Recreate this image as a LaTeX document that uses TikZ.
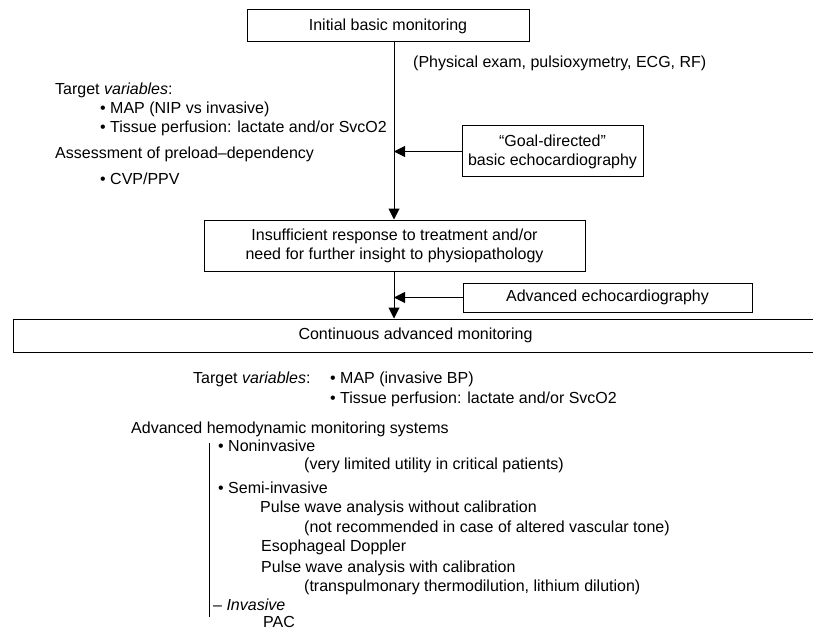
\documentclass[tikz,border=0pt]{standalone}
\usepackage{fontspec}
\setmainfont{Liberation Sans}
\usetikzlibrary{arrows.meta}
\begin{document}
\begin{tikzpicture}[x=1pt,y=-1pt,font=\fontsize{16}{19}\selectfont,
  box/.style={draw,line width=1pt,inner sep=0pt,align=center},
  lbl/.style={anchor=base west,inner sep=0pt},
  arr/.style={line width=1pt,-{Triangle[width=11pt,length=11pt]}},
  ln/.style={line width=1pt}]
\useasboundingbox (0,0) rectangle (813,631);
\coordinate (sp) at (394,0);
% boxes
\node[box,minimum width=282pt,minimum height=32pt] (b1) at (388,26) {Initial basic monitoring};
\node[box,minimum width=181pt,minimum height=51pt] (goal) at (552.5,151.5) {“Goal-directed”\\basic echocardiography};
\node[box,minimum width=381pt,minimum height=51pt] (b2) at (394.5,245.5) {Insufficient response to treatment and/or\\need for further insight to physiopathology};
\node[box,minimum width=289pt,minimum height=29pt] (adv) at (607.5,297.5) {Advanced echocardiography};
\node[box,minimum width=805pt,minimum height=33pt] (b3) at (415.5,335.5) {Continuous advanced monitoring};
% connectors
\draw[arr] (b1.south -| sp) -- (b2.north -| sp);
\draw[arr] (goal.west) -- (goal.west -| sp);
\draw[arr] (b2.south -| sp) -- (b3.north -| sp);
\draw[arr] (adv.west) -- (adv.west -| sp);
% upper texts
\node[lbl] (phys) at (413,68) {(Physical exam, pulsioxymetry, ECG, RF)};
\node[lbl] (tv1) at (55,95) {Target \textit{variables}:};
\node[lbl] (map1) at (100,114) {\textbullet\ MAP (NIP vs invasive)};
\node[lbl] (tis1) at (100,133) {\textbullet\ Tissue perfusion: lactate and/or SvcO2};
\node[lbl] (ass) at (55,159) {Assessment of preload–dependency};
\node[lbl] (cvp) at (100,185) {\textbullet\ CVP/PPV};
% lower texts
\node[lbl] (tv2) at (193,383) {Target \textit{variables}:};
\node[lbl] (map2) at (330,383) {\textbullet\ MAP (invasive BP)};
\node[lbl] (tis2) at (330,403) {\textbullet\ Tissue perfusion: lactate and/or SvcO2};
\node[lbl] (ahm) at (131,433) {Advanced hemodynamic monitoring systems};
\coordinate (bt) at (209,443);
\coordinate (bb) at (209,617);
\draw[ln] (bt) -- (bb);
\node[lbl] (non) at (218,451) {\textbullet\ Noninvasive};
\node[lbl] (non2) at (304,469) {(very limited utility in critical patients)};
\node[lbl] (semi) at (218,493) {\textbullet\ Semi-invasive};
\node[lbl] (pw1) at (260,512) {Pulse wave analysis without calibration};
\node[lbl] (pw1b) at (304,532) {(not recommended in case of altered vascular tone)};
\node[lbl] (eso) at (261,551) {Esophageal Doppler};
\node[lbl] (pw2) at (261,572) {Pulse wave analysis with calibration};
\node[lbl] (pw2b) at (304,591) {(transpulmonary thermodilution, lithium dilution)};
\node[lbl] (inv) at (213,610) {– \textit{Invasive}};
\node[lbl] (pac) at (263,627) {PAC};
\end{tikzpicture}
\end{document}
